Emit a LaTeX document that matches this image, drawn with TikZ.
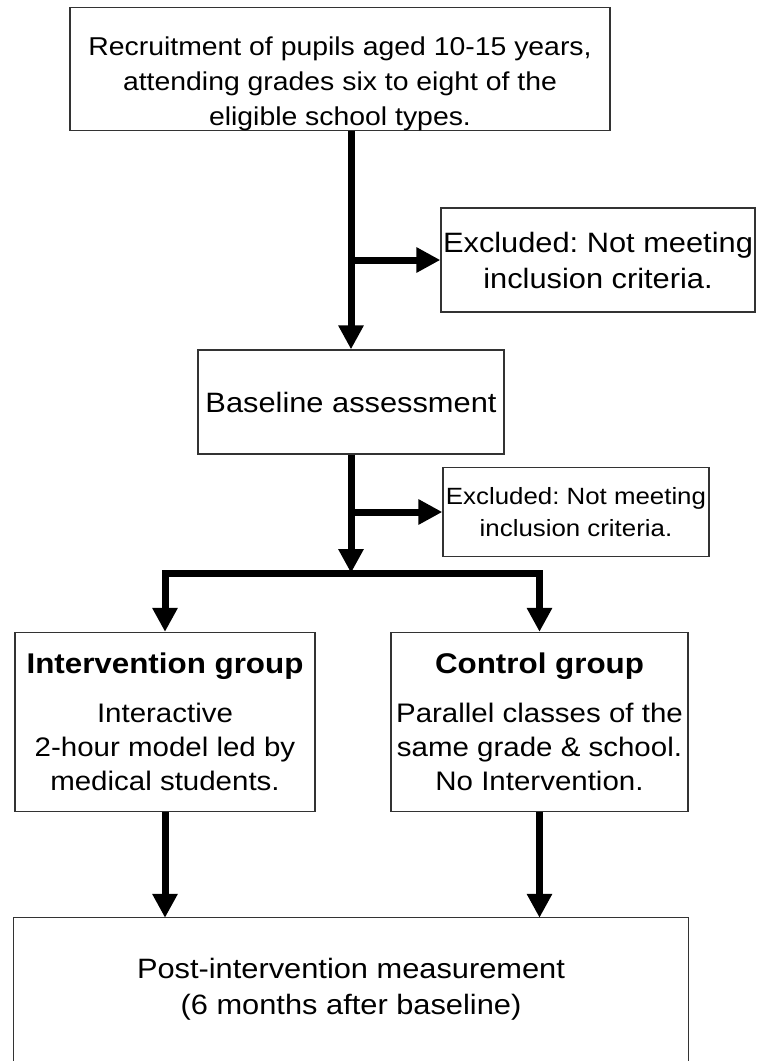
\documentclass[tikz,border=0pt]{standalone}
\usepackage{fontspec}
\setmainfont[FakeStretch=1.1]{Liberation Sans}
\usetikzlibrary{arrows.meta}
\frenchspacing
\newcommand\headfnt{\fontsize{28.5}{34}\selectfont\bfseries}
\begin{document}
\begin{tikzpicture}[x=1pt,y=-1pt,
  box/.style={draw=black!80, line width=1.3pt, align=center, inner sep=0pt},
  fA/.style={font=\fontsize{25.8}{35}\selectfont},
  fB/.style={font=\fontsize{28}{36}\selectfont},
  fC/.style={font=\fontsize{23.5}{32}\selectfont},
  fD/.style={font=\fontsize{26.8}{34}\selectfont},
  arr/.style={line width=7pt, -{Triangle[length=24pt,width=24pt]}},
  barline/.style={line width=7pt, line cap=rect}]
\useasboundingbox (0,0) rectangle (757,1061);
\node[box,fA,minimum width=540pt,minimum height=122pt] (top) at (340,69)
  {\rule{0pt}{48pt}Recruitment of pupils aged 10-15 years,\\attending grades six to eight of the\\eligible school types.};
\node[box,fB,minimum width=314pt,minimum height=104pt] (ex1) at (598,260)
  {Excluded: Not meeting\\inclusion criteria.};
\node[box,fB,minimum width=306pt,minimum height=104pt] (base) at (351,402)
  {Baseline assessment};
\node[box,fC,minimum width=266pt,minimum height=89pt] (ex2) at (576,512)
  {Excluded: Not meeting\\inclusion criteria.};
\node[box,fD,minimum width=300pt,minimum height=179pt] (int) at (165,722)
  {{\headfnt Intervention group}\\[15pt]Interactive\\2-hour model led by\\medical students.};
\node[box,fD,minimum width=297pt,minimum height=179pt] (ctl) at (539.5,722)
  {{\headfnt Control group}\\[15pt]Parallel classes of the\\same grade \& school.\\No Intervention.};
\node[fB,align=center,inner sep=0pt,minimum width=674pt,minimum height=143pt] (post) at (351,989.5)
  {Post-intervention measurement\\(6 months after baseline)};
\draw[black!80,line width=1.3pt] (post.south west) -- (post.north west) -- (post.north east) -- (post.south east);
% connectors
\coordinate (t1) at (base.north |- top.south);
\coordinate (b1) at (base.north |- ex1.west);
\coordinate (b2) at (base.north |- ex2.west);
\coordinate (bar) at (351,573);
\coordinate (barL) at (int.north |- bar);
\coordinate (barR) at (ctl.north |- bar);
\draw[arr] (t1) -- (base.north);
\draw[arr] (b1) -- (ex1.west);
\draw[arr] (base.south) -- (bar);
\draw[arr] (b2) -- (ex2.west);
\draw[barline] (barL) -- (barR);
\draw[arr] (barL) -- (int.north);
\draw[arr] (barR) -- (ctl.north);
\draw[arr] (int.south) -- (int.south |- post.north);
\draw[arr] (ctl.south) -- (ctl.south |- post.north);
\end{tikzpicture}
\end{document}
